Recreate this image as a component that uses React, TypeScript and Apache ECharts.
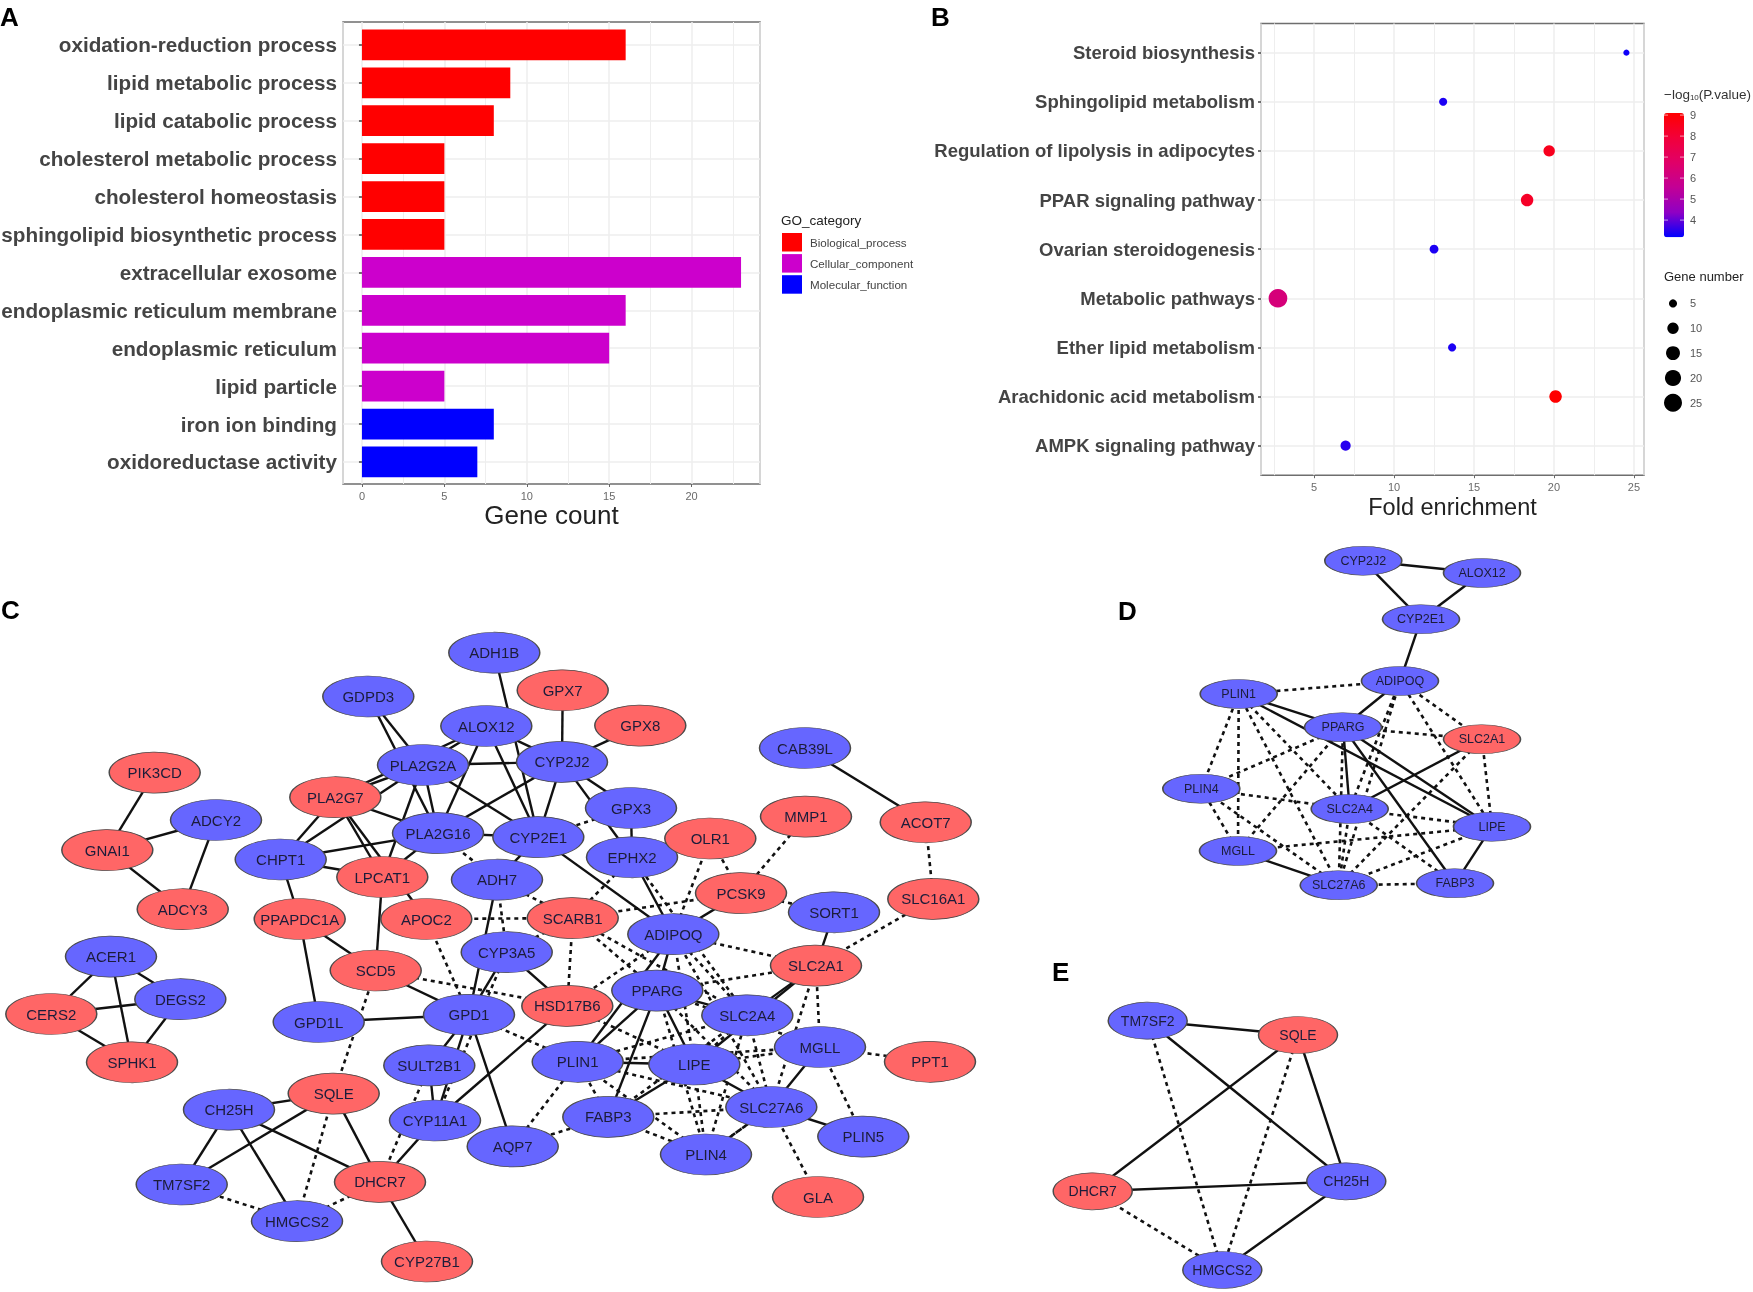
import React, { useEffect, useRef } from "react";
import * as echarts from "echarts";

// ---------- Panel A ----------
const goTerms = ["oxidation-reduction process","lipid metabolic process","lipid catabolic process","cholesterol metabolic process","cholesterol homeostasis","sphingolipid biosynthetic process","extracellular exosome","endoplasmic reticulum membrane","endoplasmic reticulum","lipid particle","iron ion binding","oxidoreductase activity"];
const biologicalProcess = [16,9,8,5,5,5,null,null,null,null,null,null];
const cellularComponent = [null,null,null,null,null,null,23,16,15,5,null,null];
const molecularFunction = [null,null,null,null,null,null,null,null,null,null,8,7];
const minorTicks = [2.5,7.5,12.5,17.5,22.5];

// ---------- Panel B ----------
const pathways = ["Steroid biosynthesis","Sphingolipid metabolism","Regulation of lipolysis in adipocytes","PPAR signaling pathway","Ovarian steroidogenesis","Metabolic pathways","Ether lipid metabolism","Arachidonic acid metabolism","AMPK signaling pathway"];
const foldEnrichment = [24.53,13.07,19.7,18.32,12.5,2.74,13.63,20.1,6.97];
const logP = [3.3,3.4,8.5,8.3,3.4,6.3,3.4,9.1,3.5];
const geneNumber = [3,5,10,12,6,27,5,12,8];
const pTicks = [9,8,7,6,5,4];
const geneTicks = [5,10,15,20,25];

// ---------- Networks: [name, x, y, up-regulated (red)] ----------
type N = [string, number, number, number];
const netCNodes: N[] = [
["PIK3CD",154.7,772.6,1],["ADCY2",216,820,0],["GNAI1",107.3,850.1,1],["ADCY3",182.7,909.2,1],["ACER1",111,956.6,0],["DEGS2",180.3,999.2,0],["CERS2",51.3,1014,1],["SPHK1",132,1062.3,1],
["GDPD3",368.3,696.5,0],["ADH1B",494.3,652.7,0],["ALOX12",486.3,726,0],["PLA2G2A",423,765,0],["PLA2G7",335.3,797.2,1],["PLA2G16",438,833.1,0],["CHPT1",280.7,859.5,0],["LPCAT1",382.3,877,1],["ADH7",497,879.7,0],["PPAPDC1A",299.7,919,1],["APOC2",426.3,919,1],["CYP3A5",506.7,952.2,0],["SCD5",375.7,970.5,1],["GPD1L",318.7,1022,0],["GPD1",469,1014.8,0],["SULT2B1",429.3,1065.4,0],["SQLE",333.7,1093.6,1],["CH25H",229,1109.7,0],["CYP11A1",435,1120.5,0],["TM7SF2",181.7,1184.5,0],["DHCR7",380,1181.9,1],["HMGCS2",297,1221.2,0],["CYP27B1",427,1261.5,1],["AQP7",512.7,1146.4,0],
["GPX7",562.7,690.3,1],["GPX8",640.3,725.6,1],["CYP2J2",562,761.9,0],["CAB39L",805,748,0],["GPX3",631,808,0],["CYP2E1",538.3,837.1,0],["EPHX2",632,857.3,0],["OLR1",710.3,838.5,1],["MMP1",806,816.6,1],["ACOT7",925.7,822.3,1],["SLC16A1",933.3,898.9,1],["PCSK9",741,893.1,1],["SORT1",834,912.3,0],["SCARB1",572.7,918.1,1],["ADIPOQ",673.3,934.2,0],["SLC2A1",816,965.6,1],["PPARG",657.3,990.6,0],["HSD17B6",567.3,1005.9,1],["SLC2A4",747.3,1015.3,0],["MGLL",820,1047,0],["PPT1",930,1061.8,1],["PLIN1",577.7,1061.8,0],["LIPE",694.3,1064.5,0],["SLC27A6",771.3,1107,0],["FABP3",608.3,1116.9,0],["PLIN5",863.3,1136.6,0],["PLIN4",706,1154.5,0],["GLA",818,1197,1],
];
const netCSolid = ["PIK3CD-GNAI1","GNAI1-ADCY2","GNAI1-ADCY3","ADCY2-ADCY3","ACER1-CERS2","ACER1-DEGS2","ACER1-SPHK1","CERS2-DEGS2","CERS2-SPHK1","DEGS2-SPHK1","GDPD3-PLA2G2A","GDPD3-PLA2G16","ADH1B-CYP2E1","ALOX12-PLA2G2A","ALOX12-PLA2G16","ALOX12-CYP2J2","ALOX12-CYP2E1","ALOX12-PLA2G7","PLA2G2A-CYP2J2","PLA2G2A-PLA2G7","PLA2G2A-PLA2G16","PLA2G2A-CYP2E1","PLA2G2A-LPCAT1","PLA2G2A-CHPT1","PLA2G7-PLA2G16","PLA2G7-CHPT1","PLA2G7-LPCAT1","PLA2G7-APOC2","PLA2G16-CHPT1","PLA2G16-CYP2E1","PLA2G16-CYP2J2","PLA2G16-LPCAT1","CHPT1-LPCAT1","CHPT1-PPAPDC1A","PPAPDC1A-GPD1L","PPAPDC1A-SCD5","LPCAT1-SCD5","SCD5-GPD1","GPD1L-GPD1","GPD1-SULT2B1","ADH7-GPD1","CYP3A5-GPD1","GPD1-CYP11A1","GPD1-AQP7","SULT2B1-CYP11A1","CYP11A1-DHCR7","HSD17B6-CYP11A1","CYP3A5-HSD17B6","SQLE-CH25H","SQLE-TM7SF2","SQLE-DHCR7","CH25H-TM7SF2","CH25H-HMGCS2","CH25H-DHCR7","DHCR7-CYP27B1","GPX7-CYP2J2","GPX8-CYP2J2","CYP2J2-CYP2E1","CYP2J2-GPX3","CYP2J2-EPHX2","GPX3-EPHX2","EPHX2-OLR1","EPHX2-ADIPOQ","CYP2E1-ADIPOQ","CYP2E1-ADH7","CAB39L-ACOT7","PCSK9-ADIPOQ","SORT1-SLC2A1","ADIPOQ-PPARG","ADIPOQ-PLIN1","PLIN1-PPARG","PLIN1-LIPE","PPARG-LIPE","PPARG-SLC2A4","PPARG-FABP3","SLC2A1-SLC2A4","SLC2A1-LIPE","LIPE-FABP3","LIPE-SLC27A6","MGLL-SLC27A6","SLC27A6-PLIN5"];
const netCDashed = ["SQLE-HMGCS2","TM7SF2-HMGCS2","DHCR7-HMGCS2","SQLE-SCD5","DHCR7-SULT2B1","APOC2-GPD1","APOC2-SCARB1","SCD5-HSD17B6","ADH7-SCARB1","PLA2G16-ADH7","ADH7-CYP3A5","CYP3A5-SCARB1","GPD1-PLIN1","CYP11A1-CYP3A5","CYP2E1-GPX3","ACOT7-SLC16A1","SLC16A1-SLC2A1","MMP1-PCSK9","OLR1-PCSK9","OLR1-ADIPOQ","PCSK9-SORT1","PCSK9-SCARB1","EPHX2-SCARB1","EPHX2-SLC2A4","ADIPOQ-SLC2A1","ADIPOQ-SLC2A4","ADIPOQ-SLC27A6","ADIPOQ-LIPE","PPARG-SLC2A1","PPARG-PLIN4","PPARG-MGLL","PPARG-SLC27A6","PLIN1-PLIN4","PLIN1-MGLL","PLIN1-SLC2A4","PLIN1-SLC27A6","SLC2A1-SLC27A6","PLIN4-SLC2A4","PLIN4-SLC27A6","SLC2A4-LIPE","SLC2A4-SLC27A6","SLC2A4-FABP3","MGLL-LIPE","SCARB1-HSD17B6","SCARB1-PPARG","SCARB1-SLC2A4","HSD17B6-ADIPOQ","HSD17B6-LIPE","MGLL-SLC2A1","MGLL-PPT1","MGLL-PLIN5","SLC27A6-GLA","SLC27A6-PLIN4","LIPE-PLIN4","FABP3-PLIN4","PLIN1-AQP7","FABP3-AQP7","PLIN1-FABP3","SLC27A6-FABP3"];

const netDNodes: N[] = [["CYP2J2",1363.3,560.7,0],["ALOX12",1482,573,0],["CYP2E1",1421,619.3,0],["ADIPOQ",1400,681,0],["PLIN1",1238.7,694,0],["PPARG",1343,727.3,0],["SLC2A1",1482,739.3,1],["PLIN4",1201.3,788.7,0],["SLC2A4",1349.7,809,0],["LIPE",1492,826.7,0],["MGLL",1238,851,0],["SLC27A6",1338.7,885.3,0],["FABP3",1455,883.3,0]];
const netDSolid = ["CYP2J2-ALOX12","CYP2J2-CYP2E1","ALOX12-CYP2E1","CYP2E1-ADIPOQ","ADIPOQ-PPARG","PLIN1-PPARG","PLIN1-LIPE","PPARG-LIPE","PPARG-SLC2A4","PPARG-FABP3","SLC2A1-SLC2A4","LIPE-FABP3","MGLL-SLC27A6"];
const netDDashed = ["ADIPOQ-PLIN1","ADIPOQ-SLC2A1","ADIPOQ-SLC2A4","ADIPOQ-SLC27A6","ADIPOQ-LIPE","PPARG-SLC2A1","PPARG-PLIN4","PPARG-MGLL","PPARG-SLC27A6","PLIN1-PLIN4","PLIN1-MGLL","PLIN1-SLC2A4","PLIN1-SLC27A6","SLC2A1-LIPE","SLC2A1-SLC27A6","PLIN4-SLC2A4","PLIN4-MGLL","PLIN4-SLC27A6","SLC2A4-LIPE","SLC2A4-SLC27A6","SLC2A4-FABP3","MGLL-LIPE","LIPE-SLC27A6","SLC27A6-FABP3"];

const netENodes: N[] = [["TM7SF2",1147.7,1020.7,0],["SQLE",1298,1035,1],["DHCR7",1092.7,1191.3,1],["CH25H",1346.3,1181.3,0],["HMGCS2",1222.3,1270,0]];
const netESolid = ["TM7SF2-SQLE","TM7SF2-CH25H","SQLE-CH25H","SQLE-DHCR7","DHCR7-CH25H","CH25H-HMGCS2"];
const netEDashed = ["TM7SF2-HMGCS2","SQLE-HMGCS2","DHCR7-HMGCS2"];

const FONT = "Liberation Sans";
const GRID = "#eeeeee";
const FRAME = "#6e6e6e";

const sizeOf = (n: number) => 3.6 * Math.sqrt(n);

function network(name: string, nodes: N[], solid: string[], dashed: string[], size: number[], fontSize: number) {
  const link = (e: string, d: boolean) => {
    const [source, target] = e.split("-");
    return { source, target, lineStyle: d ? { type: [4, 4], width: 2.6, color: "#111", opacity: 1 } : { type: "solid", width: 2.4, color: "#111", opacity: 1 } };
  };
  return {
    type: "graph", name, coordinateSystem: "cartesian2d", xAxisIndex: 4, yAxisIndex: 4, layout: "none", silent: true,
    symbol: "circle", symbolSize: size, z: 3,
    label: { show: true, position: "inside", formatter: "{b}", fontFamily: FONT, fontSize, color: "#1c1c3a" },
    data: nodes.map(([n, x, y, up]) => ({ name: n, value: [x, y], itemStyle: { color: up ? "#ff6666" : "#6666ff", borderColor: "#4a4a4a", borderWidth: 1 } })),
    links: [...solid.map((e) => link(e, false)), ...dashed.map((e) => link(e, true))],
  };
}

const vLine = (list: number[]) => ({
  silent: true, symbol: "none", z: 1, label: { show: false }, emphasis: { disabled: true },
  lineStyle: { color: GRID, width: 1, type: "solid" }, data: list.map((v) => ({ xAxis: v })),
});

const txt = (x: number, y: number, text: string, fontSize: number, extra: any = {}) => ({
  type: "text", x, y, silent: true, style: { text, fontFamily: FONT, fontSize, fill: "#333", verticalAlign: "middle", ...extra },
});

// box of panels (frames), and of their data bands
const free = { outerBoundsMode: "none" };
const aFrame = { ...free, left: 343, right: 1753 - 760, top: 22, height: 462 };
const aData = { ...free, left: 343, right: 1753 - 760, top: 25.9, height: 455 };
const bFrame = { ...free, left: 1261, right: 1753 - 1644, top: 23.4, height: 451.8 };
const bData = { ...free, left: 1261, right: 1753 - 1644, top: 28.1, height: 442.1 };

const barAxisX = { min: -1.15, max: 24.15 };
const dotAxisX = { min: 1.68, max: 25.63 };
const pMin = 3.18, pMax = 9.1;
const cbTop = 113, cbH = 124.3;
const pY = (p: number) => cbTop + ((pMax - p) / (pMax - pMin)) * cbH;

const frameX = (range: any, gridIndex: number, name: string, nameGap: number, nameSize: number) => ({
  type: "value", gridIndex, ...range, splitNumber: 5, name, nameLocation: "middle", nameGap,
  nameTextStyle: { fontFamily: FONT, fontSize: nameSize, color: "#222" },
  axisLine: { show: false }, axisTick: { show: true, length: 3, lineStyle: { color: "#666" } },
  axisLabel: { showMinLabel: false, showMaxLabel: false, fontFamily: FONT, fontSize: 11, color: "#6a6a6a", margin: 6 },
  splitLine: { show: true, lineStyle: { color: GRID, width: 1.5 } },
});
const dataY = (gridIndex: number, data: string[], fontSize: number) => ({
  type: "category", gridIndex, inverse: true, data,
  axisLine: { show: false },
  axisTick: { show: true, alignWithLabel: true, length: 3, lineStyle: { color: "#444", width: 1.5 } },
  axisLabel: { interval: 0, fontFamily: FONT, fontSize, fontWeight: "bold", color: "#444", margin: 6 },
  splitLine: { show: true, alignWithLabel: true, interval: 0, lineStyle: { color: GRID, width: 1.5 } },
});
const hiddenY = (gridIndex: number) => ({ type: "value", gridIndex, show: false, min: 0, max: 1, splitLine: { show: false } });
const hiddenX = (range: any, gridIndex: number) => ({ type: "value", gridIndex, show: false, ...range, splitLine: { show: false } });

const barSeries = (name: string, data: any[], color: string) => ({
  type: "bar", name, xAxisIndex: 1, yAxisIndex: 1, stack: "go", barWidth: "81%", data, itemStyle: { color }, silent: true, z: 3,
});

export default function App() {
  const ref = useRef<HTMLDivElement>(null);
  useEffect(() => {
    const chart = echarts.init(ref.current!, undefined, { renderer: "svg" });
    const option: any = {
      animation: false,
      backgroundColor: "#fff",
      grid: [
        { ...aFrame, show: true, borderColor: FRAME, borderWidth: 1.5, backgroundColor: "transparent" },
        { ...aData },
        { ...bFrame, show: true, borderColor: FRAME, borderWidth: 1.5, backgroundColor: "transparent" },
        { ...bData },
        { ...free, left: 0, top: 0, width: 1753, height: 1292 },
      ],
      xAxis: [
        frameX(barAxisX, 0, "Gene count", 15, 26),
        hiddenX(barAxisX, 1),
        frameX(dotAxisX, 2, "Fold enrichment", 20, 23.5),
        hiddenX(dotAxisX, 3),
        { type: "value", gridIndex: 4, show: false, min: 0, max: 1753 },
      ],
      yAxis: [
        hiddenY(0),
        dataY(1, goTerms, 20.7),
        hiddenY(2),
        dataY(3, pathways, 18.5),
        { type: "value", gridIndex: 4, show: false, inverse: true, min: 0, max: 1292 },
      ],
      legend: {
        left: 782, top: 233, orient: "vertical", padding: 0, itemGap: 2.6, itemWidth: 20, itemHeight: 18.5, icon: "rect",
        selectedMode: false,
        textStyle: { fontFamily: FONT, fontSize: 11.6, color: "#444", padding: [0, 0, 0, 3] },
        data: ["Biological_process", "Cellular_component", "Molecular_function"],
      },
      visualMap: {
        type: "continuous", seriesIndex: 5, dimension: 2, min: pMin, max: pMax, left: 1664, top: cbTop, itemWidth: 20, itemHeight: cbH,
        calculable: false, padding: 0, hoverLink: false,
        inRange: { color: ["#0000ff", "#8f00c4", "#c20096", "#e00068", "#f2003a", "#ff0000"] },
      },
      series: [
        barSeries("Biological_process", biologicalProcess, "#ff0000"),
        barSeries("Cellular_component", cellularComponent, "#cc00cc"),
        barSeries("Molecular_function", molecularFunction, "#0000ff"),
        { type: "line", xAxisIndex: 0, yAxisIndex: 0, data: [], silent: true, markLine: vLine(minorTicks) },
        { type: "line", xAxisIndex: 2, yAxisIndex: 2, data: [], silent: true, markLine: vLine(minorTicks) },
        {
          type: "scatter", name: "KEGG", xAxisIndex: 3, yAxisIndex: 3, silent: true, z: 3, itemStyle: { opacity: 1 },
          data: pathways.map((p, i) => [foldEnrichment[i], p, logP[i], geneNumber[i]]),
          encode: { x: 0, y: 1 },
          symbolSize: (v: any[]) => sizeOf(v[3]),
        },
        network("C", netCNodes, netCSolid, netCDashed, [91, 41], 15),
        network("D", netDNodes, netDSolid, netDDashed, [77, 29], 12.5),
        network("E", netENodes, netESolid, netEDashed, [79, 37], 14),
      ],
      graphic: [
        ...[["A", 0, 17], ["B", 931, 17], ["C", 1, 610], ["D", 1118, 611], ["E", 1052, 972]].map(([t, x, y]: any) =>
          txt(x, y, t, 26, { fontWeight: "bold", fill: "#000" })),
        txt(781, 220, "GO_category", 13.5, { fill: "#222" }),
        {
          type: "text", x: 1664, y: 94, silent: true,
          style: {
            fontFamily: FONT, fill: "#333", verticalAlign: "middle",
            text: "{a|\u2212log}{b|10}{a|(P.value)}",
            rich: { a: { fontSize: 13.5, fontFamily: FONT, fill: "#333" }, b: { fontSize: 8, fontFamily: FONT, fill: "#333", verticalAlign: "bottom", padding: [6, 0, 0, 0] } },
          },
        },
        ...pTicks.map((p) => txt(1690, pY(p), String(p), 11, { fill: "#555" })),
        ...pTicks.map((p) => ({ type: "line", silent: true, z: 20, shape: { x1: 1664, y1: pY(p), x2: 1668, y2: pY(p) }, style: { stroke: "rgba(255,255,255,0.6)", lineWidth: 1 } })),
        ...pTicks.map((p) => ({ type: "line", silent: true, z: 20, shape: { x1: 1680, y1: pY(p), x2: 1684, y2: pY(p) }, style: { stroke: "rgba(255,255,255,0.6)", lineWidth: 1 } })),
        txt(1664, 276, "Gene number", 13, { fill: "#222" }),
        ...geneTicks.flatMap((g, i) => [
          { type: "circle", silent: true, shape: { cx: 1673, cy: 303.4 + i * 24.85, r: sizeOf(g) / 2 }, style: { fill: "#000" } },
          txt(1690, 303.4 + i * 24.85, String(g), 11, { fill: "#555" }),
        ]),
      ],
    };
    chart.setOption(option);
    return () => chart.dispose();
  }, []);
  return <div ref={ref} style={{ position: "absolute", left: 0, top: 0, width: 1753, height: 1292, filter: "blur(0.4px)" }} />;
}
